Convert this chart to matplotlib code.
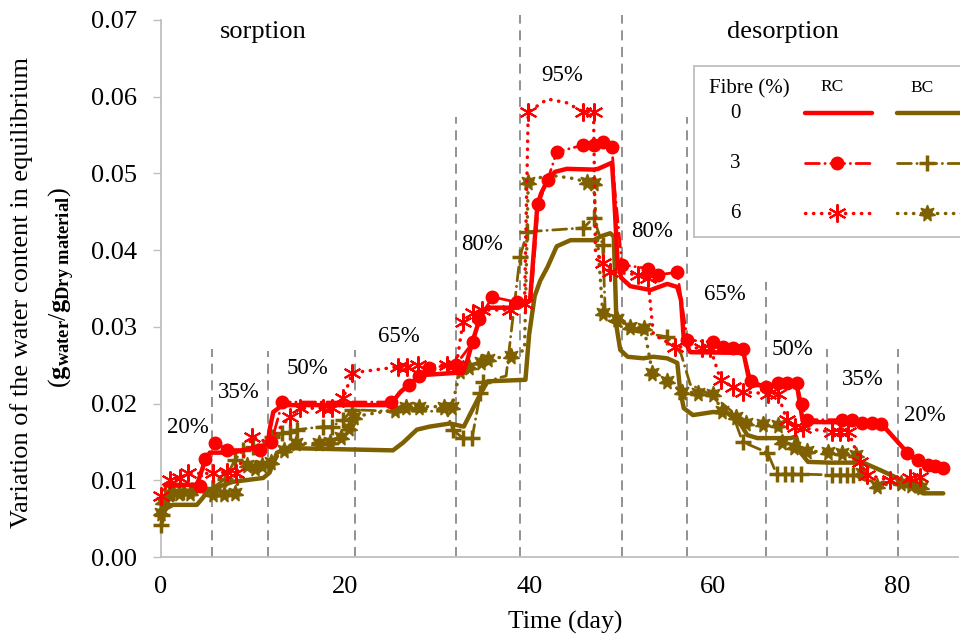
import matplotlib
matplotlib.use("Agg")
import matplotlib.pyplot as plt

plt.rcParams['font.family'] = ['Liberation Serif', 'DejaVu Serif']
plt.rcParams['mathtext.fontset'] = 'custom'
plt.rcParams['mathtext.rm'] = 'Liberation Serif'
plt.rcParams['mathtext.bf'] = 'Liberation Serif:bold'
plt.rcParams['mathtext.it'] = 'Liberation Serif:italic'

RED = '#FF0000'
BROWN = '#7F6000'

# ---- data (time in days, water content g/g) ----
rc0_x = [0.4, 3.9, 4.8, 5.3, 7.8, 11.0, 11.6, 11.8, 12.2, 13.2, 24.9, 26.0, 28.2, 32.0, 32.8, 33.3,
         33.9, 34.7, 35.4, 38.7, 40.1, 40.9, 41.3, 42.0, 42.8, 44.1, 47.0, 47.5, 49.0, 49.2, 49.6,
         50.0, 51.0, 53.2, 55.0, 56.1, 56.5, 56.8, 57.5, 63.3, 63.8, 64.3, 69.1, 69.7, 70.3, 78.2,
         79.6, 81.1, 82.2, 83.3, 85.4]
rc0_y = [0.0094, 0.0094, 0.0126, 0.0136, 0.0136, 0.0145, 0.0147, 0.0166, 0.0189, 0.0198, 0.0198,
         0.0215, 0.0237, 0.0240, 0.0240, 0.0257, 0.0283, 0.0313, 0.0325, 0.0325, 0.0335, 0.0459,
         0.0474, 0.0491, 0.0502, 0.0506, 0.0505, 0.0506, 0.0514, 0.0478, 0.0387, 0.0364, 0.0353,
         0.0348, 0.0356, 0.0352, 0.0335, 0.0285, 0.0267, 0.0266, 0.0237, 0.0224, 0.0224, 0.0179,
         0.0176, 0.0175, 0.0156, 0.0136, 0.0124, 0.0117, 0.0113]

rc3_x = [0.5, 4.2, 4.8, 5.9, 7.2, 10.8, 11.5, 12.0, 13.2, 25.0, 26.9, 28.0, 29.1, 32.0, 33.9, 34.6,
         36.0, 38.7, 40.2, 41.0, 42.0, 43.0, 45.9, 47.0, 48.0, 49.0, 49.3, 50.1, 52.9, 54.0, 56.1,
         56.6, 57.2, 60.0, 61.1, 62.2, 63.2, 64.1, 65.7, 67.0, 68.0, 69.1, 69.6, 70.2, 74.0, 75.1,
         76.2, 77.3, 78.2, 81.1, 82.2, 83.3, 84.1, 85.0]
rc3_y = [0.0092, 0.0092, 0.0128, 0.0149, 0.0140, 0.0140, 0.0146, 0.0150, 0.0202, 0.0202, 0.0224,
         0.0236, 0.0247, 0.0250, 0.0280, 0.0310, 0.0339, 0.0332, 0.0335, 0.0460, 0.0491, 0.0528,
         0.0537, 0.0537, 0.0541, 0.0535, 0.0480, 0.0381, 0.0376, 0.0368, 0.0371, 0.0330, 0.0283,
         0.0280, 0.0274, 0.0272, 0.0271, 0.0230, 0.0222, 0.0227, 0.0227, 0.0227, 0.0200, 0.0179,
         0.0179, 0.0179, 0.0175, 0.0175, 0.0173, 0.0136, 0.0127, 0.0120, 0.0119, 0.0116]

rc6_x = [0.0, 1.0, 2.1, 2.9, 5.7, 7.2, 8.2, 9.9, 11.6, 14.0, 15.1, 17.6, 18.6, 19.8, 20.8, 25.8,
         26.7, 27.9, 31.1, 32.1, 32.8, 33.9, 34.9, 37.9, 39.5, 39.9, 42.0, 44.1, 45.9, 47.0, 47.2,
         48.0, 48.8, 51.8, 52.9, 53.5, 55.9, 58.8, 59.7, 60.8, 62.1, 63.2, 66.0, 67.0, 68.0, 68.9,
         69.8, 72.9, 73.8, 74.7, 76.0, 76.7, 79.2, 81.4, 82.5]
rc6_y = [0.0080, 0.0100, 0.0103, 0.0109, 0.0109, 0.0111, 0.0110, 0.0156, 0.0150, 0.0183, 0.0194,
         0.0194, 0.0194, 0.0207, 0.0240, 0.0248, 0.0248, 0.0250, 0.0250, 0.0250, 0.0306, 0.0318,
         0.0322, 0.0322, 0.0330, 0.0580, 0.0597, 0.0592, 0.0580, 0.0580, 0.0400, 0.0383, 0.0372,
         0.0368, 0.0364, 0.0290, 0.0274, 0.0272, 0.0272, 0.0231, 0.0222, 0.0215, 0.0213, 0.0213,
         0.0179, 0.0170, 0.0168, 0.0163, 0.0163, 0.0163, 0.0124, 0.0107, 0.0100, 0.0103, 0.0104]

bc0_x = [0.2, 1.3, 3.9, 4.6, 5.1, 6.1, 7.8, 11.1, 11.8, 12.6, 13.7, 25.2, 26.3, 27.8, 29.2, 31.4,
         32.9, 34.9, 35.5, 39.6, 40.0, 40.6, 41.2, 42.0, 43.0, 44.5, 47.0, 47.8, 48.8, 49.2, 49.5,
         49.9, 50.7, 52.4, 53.5, 55.0, 56.1, 56.4, 56.8, 57.8, 60.0, 61.5, 62.9, 63.7, 64.8, 68.4,
         69.0, 69.5, 70.3, 72.7, 76.3, 78.2, 80.0, 81.7, 82.8, 85.0]
bc0_y = [0.0061, 0.0068, 0.0068, 0.0078, 0.0087, 0.0091, 0.0098, 0.0103, 0.0110, 0.0136, 0.0142,
         0.0139, 0.0149, 0.0166, 0.0170, 0.0174, 0.0170, 0.0217, 0.0229, 0.0231, 0.0290, 0.0340,
         0.0360, 0.0378, 0.0405, 0.0413, 0.0413, 0.0418, 0.0422, 0.0418, 0.0300, 0.0270, 0.0261,
         0.0259, 0.0261, 0.0259, 0.0253, 0.0218, 0.0194, 0.0185, 0.0189, 0.0188, 0.0175, 0.0159,
         0.0155, 0.0155, 0.0157, 0.0136, 0.0124, 0.0123, 0.0123, 0.0113, 0.0103, 0.0091, 0.0083,
         0.0083]

bc3_x = [0.0, 0.1, 1.3, 2.4, 3.4, 5.6, 7.0, 8.0, 8.9, 10.0, 12.1, 13.2, 14.0, 14.8, 17.6, 18.6,
         19.8, 20.8, 25.0, 31.0, 31.7, 32.8, 33.8, 34.7, 35.0, 37.5, 39.0, 39.8, 45.9, 47.0, 48.0,
         48.3, 51.0, 55.0, 56.5, 57.5, 60.0, 62.0, 63.2, 65.9, 66.9, 67.8, 68.6, 69.5, 72.9, 73.8,
         74.5, 75.2, 76.5, 79.0, 82.0]
bc3_y = [0.0042, 0.0055, 0.0083, 0.0085, 0.0087, 0.0090, 0.0102, 0.0126, 0.0139, 0.0143, 0.0156,
         0.0161, 0.0163, 0.0166, 0.0170, 0.0170, 0.0179, 0.0192, 0.0190, 0.0190, 0.0166, 0.0155,
         0.0155, 0.0214, 0.0228, 0.0236, 0.0391, 0.0424, 0.0429, 0.0442, 0.0407, 0.0310, 0.0295,
         0.0287, 0.0265, 0.0225, 0.0210, 0.0190, 0.0150, 0.0136, 0.0108, 0.0108, 0.0108, 0.0108,
         0.0107, 0.0107, 0.0107, 0.0107, 0.0100, 0.0097, 0.0094]

bc6_x = [0.0, 0.2, 0.9, 2.0, 3.2, 5.7, 6.8, 8.0, 8.4, 9.3, 10.2, 11.0, 12.0, 13.4, 14.7, 17.2, 18.4,
         19.6, 20.4, 21.0, 25.4, 26.6, 28.0, 30.8, 31.6, 32.5, 33.5, 34.8, 35.5, 38.0, 39.5, 39.9,
         42.0, 44.5, 46.3, 47.0, 48.0, 49.5, 51.0, 52.5, 53.4, 55.0, 56.6, 58.4, 60.0, 61.0, 62.5,
         63.6, 65.4, 67.0, 67.5, 68.8, 70.2, 72.5, 74.0, 75.5, 76.2, 77.8, 80.4, 81.5, 82.6]
bc6_y = [0.0058, 0.0072, 0.0082, 0.0083, 0.0084, 0.0082, 0.0082, 0.0083, 0.0098, 0.0120, 0.0116,
         0.0120, 0.0124, 0.0140, 0.0148, 0.0148, 0.0150, 0.0156, 0.0168, 0.0183, 0.0192, 0.0195,
         0.0196, 0.0196, 0.0195, 0.0243, 0.0248, 0.0254, 0.0258, 0.0262, 0.0270, 0.0489, 0.0498,
         0.0494, 0.0489, 0.0487, 0.0318, 0.0310, 0.0300, 0.0298, 0.0240, 0.0230, 0.0215, 0.0214,
         0.0212, 0.0190, 0.0182, 0.0175, 0.0174, 0.0172, 0.0150, 0.0143, 0.0138, 0.0137, 0.0136,
         0.0133, 0.0110, 0.0093, 0.0097, 0.0094, 0.0091]

# humidity step boundaries and labels
step_days = [5.5, 11.6, 21.1, 32.0, 39.0, 50.1, 57.2, 65.7, 72.4, 80.1]
step_tops = [0.0271, 0.0268, 0.0270, 0.0574, 0.0707, 0.0707, 0.0574, 0.0359, 0.0271, 0.0271]
rh_labels = ['20%', '35%', '50%', '65%', '80%', '95%', '80%', '65%', '50%', '35%', '20%']
rh_label_x = [2.9, 8.4, 15.9, 25.8, 34.9, 43.6, 53.4, 61.3, 68.6, 76.3, 83.0]
rh_label_y = [0.0169, 0.0215, 0.0246, 0.0288, 0.0407, 0.0628, 0.0424, 0.0342, 0.0270, 0.0231, 0.0185]

# ---- styles ----
dotted = (0, (0.1, 2.2))
dashdot = (0, (5, 2, 0.1, 2))
styles = {
    'rc0': dict(color=RED, lw=3.2, ls='-', marker=None, solid_capstyle='round'),
    'rc3': dict(color=RED, lw=2.0, ls=dashdot, marker='o', ms=9, dash_capstyle='round'),
    'rc6': dict(color=RED, lw=2.5, ls=dotted, marker=(6, 2, 0), ms=13, mew=1.5,
                dash_capstyle='round'),
    'bc0': dict(color=BROWN, lw=3.2, ls='-', marker=None, solid_capstyle='round'),
    'bc3': dict(color=BROWN, lw=2.0, ls=dashdot, marker='+', ms=11, mew=2.5, dash_capstyle='round'),
    'bc6': dict(color=BROWN, lw=2.5, ls=dotted, marker=(7, 1, 0), ms=12, dash_capstyle='round'),
}
# points of the series drawn without a marker (transition points)
no_marker = {
    'rc3': [0.5, 11.5, 40.2, 49.3, 56.6],
    'rc6': [42.0, 44.1, 47.2, 53.5, 11.6],
    'bc3': [25.0, 31.0, 37.5, 48.3, 51.0, 56.5, 57.5, 60.0, 62.0, 76.5, 79.0],
    'bc6': [39.5, 42.0, 44.5, 8.4],
}
series = [('bc0', bc0_x, bc0_y), ('bc3', bc3_x, bc3_y), ('bc6', bc6_x, bc6_y),
          ('rc0', rc0_x, rc0_y), ('rc3', rc3_x, rc3_y), ('rc6', rc6_x, rc6_y)]

fig = plt.figure(figsize=(9.6, 6.37), dpi=100)
ax = fig.add_axes([161 / 960, 80 / 637, 797 / 960, 537 / 637])

ax.vlines(step_days, 0, step_tops, colors='#7F7F7F', linestyles=(0, (6, 4)), lw=1.2,
          zorder=1, clip_on=False)

for key, xs, ys in series:
    skip = no_marker.get(key, [])
    every = [i for i, x in enumerate(xs) if x not in skip]
    ax.plot(xs, ys, markevery=every, clip_on=False, zorder=3, **styles[key])

for lab, lx, ly in zip(rh_labels, rh_label_x, rh_label_y):
    ax.text(lx, ly, lab, fontsize=16.5, ha='center', va='center')
ax.text(11.1, 0.0684, 'sorption', fontsize=19, ha='center', va='center')
ax.text(67.6, 0.0684, 'desorption', fontsize=19, ha='center', va='center')

ax.set_xlim(0, 86.6)
ax.set_ylim(0, 0.07)
ax.set_xticks([0, 20, 40, 60, 80])
ax.set_yticks([0.0, 0.01, 0.02, 0.03, 0.04, 0.05, 0.06, 0.07])
ax.yaxis.set_major_formatter(matplotlib.ticker.FormatStrFormatter('%.2f'))
ax.tick_params(axis='y', length=6, width=1, color='#BFBFBF', pad=11, labelsize=19)
ax.tick_params(axis='x', length=0, pad=14, labelsize=19)
for s in ['top', 'right']:
    ax.spines[s].set_visible(False)
for s in ['left', 'bottom']:
    ax.spines[s].set_color('#BFBFBF')
    ax.spines[s].set_linewidth(1.3)

fig.text(565 / 960, 1 - 622 / 637, 'Time (day)', fontsize=18.5, ha='center', va='center')
fig.text(22 / 960, 1 - 293 / 637, 'Variation of the water content in equilibrium',
         fontsize=19, rotation=90, ha='center', va='center')
fig.text(62 / 960, 1 - 288 / 637,
         r'$(\mathbf{g}_{\mathbf{water}}/\mathbf{g}_{\mathbf{Dry\ material}})$',
         fontsize=19, rotation=90, ha='center', va='center')

# ---- legend box (pixel coordinates of the figure) ----
lax = fig.add_axes([694 / 960, 400 / 637, 290 / 960, 171 / 637])
lax.set_xlim(694, 984)
lax.set_ylim(237, 66)
lax.set_xticks([])
lax.set_yticks([])
for s in lax.spines.values():
    s.set_color('#BFBFBF')
    s.set_linewidth(1.3)
lax.text(749, 89, 'Fibre (%)', fontsize=15, ha='center', va='center')
lax.text(832, 87, 'RC', fontsize=12.5, ha='center', va='center')
lax.text(922, 88, 'BC', fontsize=12.5, ha='center', va='center')
rows = [('0', 113), ('3', 163), ('6', 213)]
for (num, yy), rk, bk in zip(rows, ['rc0', 'rc3', 'rc6'], ['bc0', 'bc3', 'bc6']):
    lax.text(735, yy, num, fontsize=15, ha='center', va='center')
    lax.plot([805, 837, 872], [yy, yy, yy], markevery=[1], **styles[rk])
    lax.plot([897, 927, 975], [yy, yy, yy], markevery=[1], **styles[bk])

fig.savefig('out.png', dpi=100)
